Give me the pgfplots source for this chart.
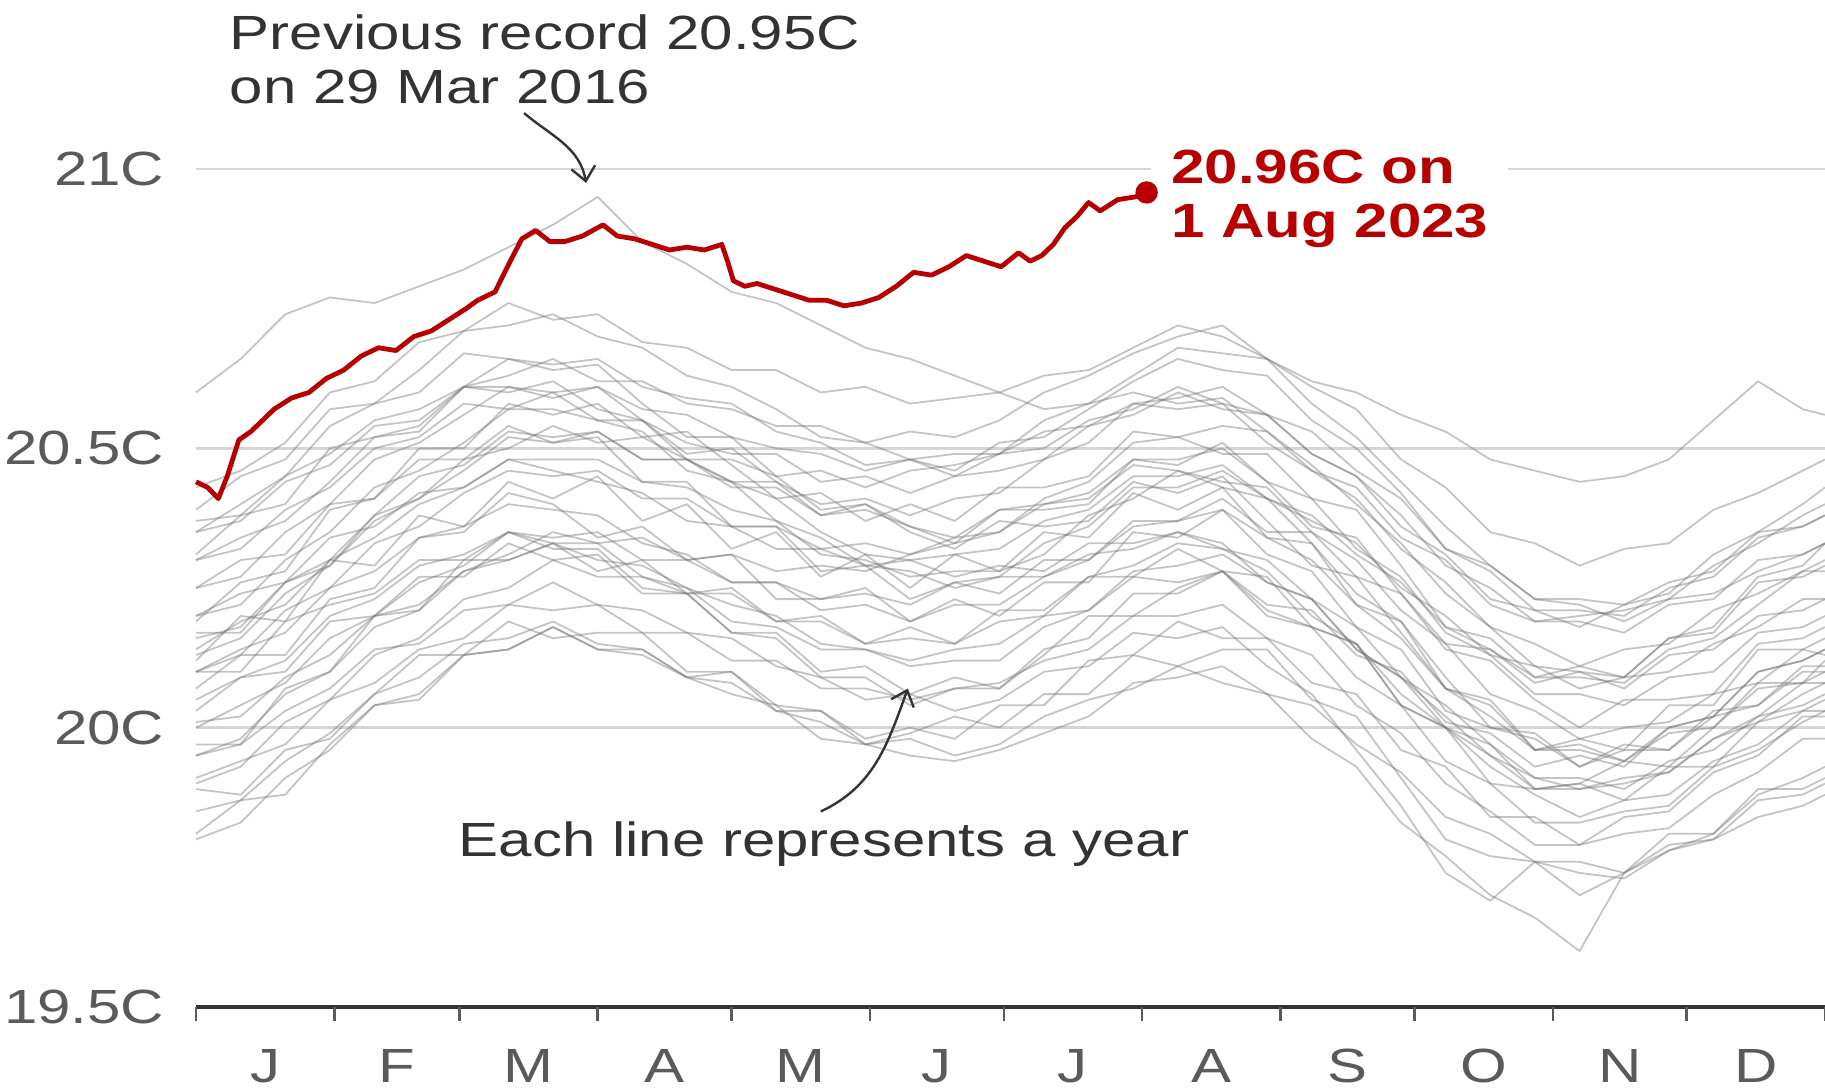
\documentclass[border=0pt]{standalone}
\usepackage{fontspec}
\setmainfont{Liberation Sans}[FakeStretch=1.25]
\usepackage{pgfplots}
\pgfplotsset{compat=1.18}
\usepackage{pgfplotstable}
\usetikzlibrary{arrows.meta}

\definecolor{bbcred}{HTML}{B80000}
\definecolor{txt}{HTML}{333333}
\definecolor{ticktxt}{HTML}{5A5A5A}
\definecolor{gridc}{HTML}{D6D6D6}

% daily global SST (C), one column per earlier year, sampled every 10 days
\pgfplotstableread{
t y1 y2 y3 y4 y5 y6 y7 y8 y9 y10 y11 y12 y13 y14 y15 y16 y17 y18 y19 y20 y21 y22 y23 y24 y25 y26 y27 y28 y29 y30 y31 y32 y33 y34 y35 y36
0   20.60 20.43 20.16 20.30 20.37 20.25 20.35 20.20 20.13 20.30 20.10 20.14 20.35 20.00 20.10 19.95 19.90 20.01 19.91 19.80 19.95 19.85 20.05 20.20 20.07 20.25 19.97 20.19 20.03 20.31 19.89 20.12 19.81 20.17 20.10 20.39
10  20.66 20.46 20.18 20.34 20.38 20.27 20.40 20.22 20.16 20.32 20.13 20.19 20.37 20.04 20.14 19.98 19.93 20.02 19.94 19.83 19.97 19.87 20.09 20.24 20.13 20.30 19.97 20.26 20.09 20.38 19.88 20.20 19.87 20.17 20.10 20.45
20  20.74 20.51 20.26 20.37 20.45 20.35 20.45 20.30 20.24 20.39 20.21 20.22 20.44 20.08 20.17 20.06 20.01 20.09 19.97 19.91 20.03 19.94 20.12 20.26 20.13 20.31 20.07 20.28 20.10 20.40 19.96 20.19 19.88 20.26 20.19 20.48
30  20.77 20.60 20.30 20.44 20.49 20.40 20.54 20.35 20.29 20.43 20.25 20.30 20.47 20.16 20.25 20.10 20.05 20.13 20.05 19.96 20.07 19.99 20.20 20.34 20.23 20.40 20.10 20.39 20.19 20.50 19.98 20.30 19.97 20.29 20.22 20.57
40  20.76 20.62 20.38 20.52 20.55 20.48 20.58 20.43 20.37 20.50 20.33 20.34 20.54 20.20 20.28 20.18 20.13 20.20 20.08 20.04 20.14 20.06 20.23 20.36 20.25 20.41 20.20 20.41 20.20 20.52 20.06 20.29 20.04 20.38 20.24 20.58
50  20.79 20.69 20.41 20.54 20.57 20.51 20.64 20.46 20.41 20.52 20.36 20.40 20.55 20.26 20.34 20.21 20.16 20.22 20.14 20.06 20.15 20.09 20.29 20.42 20.34 20.48 20.21 20.50 20.27 20.53 20.13 20.38 20.05 20.45 20.30 20.60
60  20.82 20.71 20.48 20.61 20.61 20.56 20.71 20.51 20.46 20.58 20.42 20.43 20.61 20.29 20.36 20.28 20.23 20.28 20.16 20.13 20.21 20.15 20.31 20.43 20.35 20.48 20.30 20.50 20.27 20.61 20.13 20.36 20.13 20.47 20.30 20.67
70  20.86 20.76 20.50 20.63 20.66 20.61 20.72 20.57 20.52 20.57 20.46 20.48 20.60 20.35 20.40 20.31 20.25 20.30 20.22 20.14 20.22 20.16 20.35 20.48 20.42 20.54 20.30 20.58 20.33 20.61 20.19 20.44 20.14 20.53 20.35 20.66
80  20.90 20.73 20.54 20.66 20.65 20.60 20.74 20.57 20.51 20.60 20.45 20.46 20.62 20.34 20.39 20.35 20.30 20.33 20.21 20.18 20.26 20.19 20.33 20.48 20.40 20.51 20.33 20.56 20.30 20.59 20.16 20.41 20.18 20.52 20.32 20.64
90  20.95 20.74 20.51 20.62 20.66 20.61 20.70 20.55 20.53 20.55 20.46 20.44 20.57 20.35 20.38 20.33 20.27 20.30 20.22 20.14 20.22 20.15 20.33 20.48 20.34 20.52 20.28 20.58 20.31 20.61 20.17 20.45 20.14 20.53 20.32 20.65
100 20.87 20.69 20.52 20.62 20.61 20.57 20.68 20.55 20.48 20.53 20.41 20.42 20.55 20.30 20.33 20.34 20.27 20.29 20.17 20.13 20.21 20.14 20.27 20.44 20.36 20.44 20.30 20.52 20.24 20.55 20.17 20.37 20.14 20.48 20.25 20.58
110 20.83 20.68 20.48 20.58 20.59 20.56 20.63 20.51 20.48 20.46 20.41 20.37 20.48 20.30 20.31 20.30 20.24 20.25 20.17 20.09 20.17 20.09 20.25 20.43 20.30 20.44 20.24 20.53 20.24 20.49 20.10 20.40 20.09 20.48 20.24 20.52
120 20.78 20.64 20.48 20.57 20.58 20.52 20.61 20.49 20.44 20.44 20.36 20.36 20.44 20.26 20.26 20.31 20.24 20.22 20.12 20.08 20.16 20.06 20.19 20.39 20.31 20.36 20.25 20.47 20.17 20.50 20.10 20.32 20.10 20.43 20.17 20.52
130 20.76 20.64 20.45 20.54 20.53 20.50 20.57 20.49 20.44 20.37 20.36 20.32 20.41 20.26 20.26 20.28 20.19 20.20 20.12 20.03 20.11 20.04 20.18 20.37 20.23 20.36 20.19 20.41 20.17 20.44 20.03 20.35 20.04 20.43 20.16 20.45
140 20.72 20.60 20.46 20.54 20.51 20.49 20.52 20.44 20.40 20.34 20.32 20.32 20.35 20.23 20.21 20.29 20.19 20.15 20.07 20.01 20.09 19.98 20.14 20.31 20.23 20.28 20.20 20.42 20.10 20.38 20.03 20.27 20.03 20.38 20.09 20.39
150 20.68 20.61 20.43 20.51 20.47 20.46 20.51 20.45 20.41 20.29 20.33 20.29 20.31 20.24 20.22 20.28 20.15 20.14 20.07 19.97 20.05 19.97 20.14 20.30 20.25 20.29 20.15 20.37 20.11 20.40 19.97 20.31 19.98 20.39 20.09 20.40
160 20.66 20.58 20.46 20.53 20.48 20.48 20.48 20.42 20.38 20.28 20.31 20.30 20.30 20.22 20.19 20.31 20.16 20.11 20.05 19.98 20.06 19.95 20.12 20.27 20.19 20.23 20.18 20.40 20.06 20.36 19.99 20.25 20.00 20.36 20.04 20.35
170 20.63 20.59 20.47 20.52 20.45 20.46 20.49 20.45 20.41 20.25 20.34 20.31 20.27 20.26 20.22 20.33 20.15 20.12 20.07 19.95 20.03 19.94 20.14 20.28 20.23 20.26 20.15 20.37 20.09 20.33 20.02 20.31 19.98 20.34 20.07 20.32
180 20.60 20.60 20.49 20.55 20.49 20.51 20.49 20.46 20.42 20.27 20.35 20.32 20.29 20.27 20.22 20.35 20.19 20.12 20.08 19.97 20.05 19.96 20.15 20.28 20.20 20.24 20.21 20.43 20.07 20.39 20.00 20.28 20.04 20.39 20.07 20.37
190 20.57 20.63 20.55 20.60 20.50 20.52 20.53 20.48 20.48 20.27 20.40 20.37 20.28 20.33 20.27 20.41 20.20 20.18 20.12 20.02 20.10 19.99 20.20 20.31 20.26 20.30 20.21 20.43 20.13 20.39 20.06 20.35 20.04 20.40 20.14 20.36
200 20.58 20.64 20.58 20.63 20.55 20.57 20.54 20.54 20.51 20.31 20.42 20.39 20.33 20.36 20.30 20.44 20.27 20.21 20.14 20.05 20.11 20.02 20.21 20.38 20.26 20.30 20.27 20.45 20.20 20.40 20.06 20.34 20.12 20.41 20.16 20.37
210 20.60 20.68 20.63 20.67 20.57 20.62 20.58 20.56 20.58 20.32 20.48 20.45 20.33 20.43 20.36 20.51 20.29 20.28 20.20 20.07 20.17 20.08 20.27 20.41 20.35 20.37 20.27 20.53 20.20 20.48 20.13 20.42 20.13 20.47 20.24 20.44
220 20.58 20.72 20.68 20.70 20.61 20.66 20.57 20.60 20.59 20.35 20.48 20.45 20.35 20.43 20.37 20.52 20.33 20.29 20.20 20.11 20.16 20.09 20.26 20.46 20.34 20.37 20.32 20.52 20.25 20.47 20.11 20.39 20.19 20.46 20.24 20.42
230 20.59 20.70 20.67 20.72 20.58 20.64 20.58 20.57 20.61 20.33 20.50 20.47 20.32 20.46 20.39 20.54 20.32 20.31 20.22 20.08 20.18 20.11 20.28 20.44 20.39 20.41 20.28 20.49 20.28 20.51 20.14 20.43 20.16 20.43 20.28 20.45
240 20.53 20.66 20.66 20.66 20.56 20.63 20.51 20.56 20.56 20.26 20.44 20.41 20.28 20.41 20.34 20.53 20.30 20.26 20.16 20.06 20.11 20.06 20.21 20.43 20.31 20.35 20.27 20.49 20.20 20.44 20.14 20.34 20.16 20.41 20.22 20.37
250 20.47 20.58 20.62 20.61 20.49 20.55 20.46 20.49 20.53 20.23 20.41 20.37 20.20 20.38 20.30 20.46 20.23 20.23 20.13 19.98 20.06 20.04 20.18 20.35 20.28 20.35 20.18 20.41 20.18 20.36 20.05 20.33 20.08 20.33 20.21 20.29
260 20.40 20.52 20.60 20.57 20.45 20.50 20.41 20.45 20.46 20.14 20.32 20.33 20.15 20.31 20.22 20.43 20.18 20.14 20.04 19.93 19.96 19.97 20.09 20.30 20.18 20.27 20.15 20.39 20.15 20.34 20.02 20.22 20.06 20.24 20.13 20.27
270 20.33 20.44 20.56 20.48 20.36 20.42 20.32 20.38 20.41 20.09 20.27 20.25 20.06 20.26 20.16 20.34 20.09 20.09 19.99 19.83 19.86 19.92 20.04 20.21 20.14 20.24 20.04 20.29 20.04 20.24 19.91 20.19 19.96 20.19 20.10 20.17
280 20.24 20.36 20.53 20.43 20.31 20.32 20.26 20.29 20.32 20.02 20.17 20.20 20.00 20.18 20.07 20.30 20.04 20.00 19.90 19.77 19.74 19.84 19.94 20.15 20.03 20.15 20.00 20.18 20.00 20.14 19.80 20.07 19.93 20.09 20.01 20.07
290 20.18 20.29 20.48 20.35 20.23 20.28 20.18 20.25 20.29 19.95 20.13 20.13 19.93 20.14 20.02 20.22 19.97 19.95 19.85 19.70 19.69 19.81 19.90 20.06 20.00 20.14 19.90 20.16 19.97 20.12 19.77 20.05 19.84 20.00 19.99 20.04
300 20.11 20.23 20.46 20.33 20.21 20.21 20.15 20.19 20.23 19.91 20.06 20.11 19.88 20.09 19.96 20.19 19.91 19.89 19.79 19.66 19.76 19.76 19.83 20.03 19.99 20.08 19.89 20.09 19.89 20.05 19.76 19.96 19.84 19.98 19.93 19.96
310 20.10 20.22 20.44 20.29 20.18 20.21 20.11 20.20 20.23 19.89 20.06 20.07 19.84 20.09 19.96 20.19 19.91 19.89 19.79 19.60 19.74 19.76 19.83 19.98 19.93 20.10 19.90 20.11 19.90 20.00 19.70 19.98 19.79 19.93 19.95 19.97
320 20.07 20.19 20.45 20.32 20.22 20.20 20.14 20.21 20.22 19.90 20.04 20.09 19.87 20.08 19.94 20.17 19.89 19.91 19.81 19.74 19.73 19.74 19.85 20.00 19.97 20.09 19.87 20.09 19.94 20.05 19.74 19.96 19.84 19.96 19.93 19.94
330 20.13 20.23 20.48 20.33 20.24 20.25 20.15 20.23 20.26 19.92 20.09 20.10 19.88 20.14 19.99 20.22 19.94 19.92 19.82 19.78 19.78 19.79 19.86 20.01 19.96 20.16 19.93 20.16 19.93 20.05 19.81 20.04 19.85 19.96 20.00 20.00
340 20.14 20.24 20.55 20.39 20.31 20.27 20.21 20.29 20.28 19.98 20.10 20.15 19.94 20.16 20.00 20.23 19.96 19.98 19.88 19.80 19.81 19.80 19.93 20.06 20.03 20.18 19.93 20.17 20.00 20.06 19.81 20.04 19.92 20.02 20.02 20.02
350 20.20 20.28 20.62 20.42 20.35 20.34 20.24 20.33 20.35 20.01 20.17 20.18 19.97 20.22 20.07 20.30 20.02 20.02 19.92 19.84 19.88 19.87 19.96 20.08 20.04 20.27 20.01 20.26 20.08 20.15 19.89 20.14 19.95 20.04 20.10 20.10
360 20.21 20.31 20.57 20.46 20.40 20.36 20.28 20.38 20.36 20.06 20.18 20.23 20.03 20.28 20.08 20.31 20.04 20.08 19.98 19.86 19.91 19.88 20.01 20.14 20.11 20.29 20.03 20.27 20.08 20.16 19.89 20.14 20.02 20.10 20.12 20.12
365 20.23 20.33 20.56 20.48 20.43 20.38 20.30 20.40 20.38 20.08 20.20 20.23 20.03 20.28 20.10 20.33 20.06 20.08 19.98 19.88 19.93 19.90 20.03 20.13 20.11 20.33 20.05 20.29 20.12 20.18 19.91 20.16 20.02 20.10 20.14 20.14
}\years

\begin{document}
\begin{tikzpicture}[font=\fontsize{12}{14}\selectfont]
\useasboundingbox (-49pt,-20.25pt) rectangle (407.25pt,251.75pt);
\begin{axis}[
    at={(0,0)}, anchor=south west,
    scale only axis,
    width=407.25pt, height=209.5pt,
    xmin=0, xmax=365,
    ymin=19.5, ymax=21,
    clip=false,
    axis x line*=bottom,
    x axis line style={draw=black!80, line width=1.2pt},
    y axis line style={draw=none},
    xtick={15.5,45,74.5,105,135.5,166,196.5,227.5,258,288.5,319,349.5},
    xticklabels={J,F,M,A,M,J,J,A,S,O,N,D},
    xtick align=outside,
    major tick length=0pt,
    xtick style={draw=ticktxt, line width=0.6pt},
    extra x ticks={0,31,59,90,120,151,181,212,243,273,304,334,365},
    extra x tick labels={},
    extra x tick style={major tick length=3.5pt},
    ytick={19.5,20,20.5,21},
    yticklabels={19.5C,20C,20.5C,21C},
    ytick style={draw=none},
    ymajorgrids,
    major grid style={draw=gridc, line width=0.6pt},
    yticklabel style={anchor=east, inner sep=0pt, xshift=-7.75pt, text=ticktxt, font=\fontsize{12}{14}\selectfont},
    xticklabel style={anchor=center, inner sep=0pt, yshift=-14.75pt, text=ticktxt, font=\fontsize{12}{14}\selectfont},
  ]

  \pgfplotsinvokeforeach{1,...,36}{
    \addplot[draw=black!55, draw opacity=0.42, line width=0.45pt, line join=round] table[x=t, y=y#1] {\years};
  }

  \node[anchor=west, fill=white, inner xsep=5pt, inner ysep=3pt, align=left, text=bbcred,
        font=\bfseries\fontsize{12}{13.5}\selectfont, xshift=1pt, yshift=-1.5pt]
    at (axis cs:213,20.958) {20.96C on\\1 Aug 2023};

  % 2023
  \addplot[draw=bbcred, line width=1.2pt, line join=round] coordinates {
    (0,20.44) (2.6,20.43) (5.0,20.41) (7.0,20.45) (9.6,20.515) (12.3,20.53)
    (14.9,20.55) (17.5,20.57) (21.4,20.59) (25.3,20.60) (29.2,20.625) (33.1,20.64)
    (37.0,20.665) (40.9,20.68) (44.8,20.675) (48.8,20.70) (52.7,20.71) (56.6,20.73)
    (60.5,20.75) (63.1,20.765) (67.0,20.78) (70.1,20.83) (73.0,20.875) (76.1,20.89)
    (79.3,20.87) (82.6,20.87) (86.6,20.88) (91.2,20.90) (94.4,20.88) (98.3,20.875)
    (102.2,20.865) (106.1,20.855) (110.0,20.86) (113.9,20.855) (117.8,20.865) (119.1,20.835)
    (120.4,20.80) (123.0,20.79) (125.7,20.795) (129.6,20.785) (133.5,20.775) (137.4,20.765)
    (141.3,20.765) (145.2,20.755) (149.1,20.76) (153.0,20.77) (156.9,20.79) (160.8,20.815)
    (164.8,20.81) (168.7,20.825) (172.6,20.845) (176.5,20.835) (180.4,20.825) (184.3,20.85)
    (186.9,20.835) (189.5,20.845) (192.1,20.865) (194.7,20.895) (197.4,20.915) (200.0,20.94)
    (202.6,20.925) (206.5,20.945) (210.4,20.95) (213.0,20.958)
  };
  \addplot[only marks, mark=*, mark size=2.6pt, mark options={draw=bbcred, fill=bbcred}] coordinates {(213,20.958)};

  \node[anchor=base west, inner sep=0pt, text=txt] at (axis cs:7.4,21.214) {Previous record 20.95C};
  \node[anchor=base west, inner sep=0pt, text=txt] at (axis cs:7.4,21.118) {on 29 Mar 2016};
  \draw[txt, line width=0.6pt, -{Straight Barb[length=3.5pt,width=6pt]}]
    (axis cs:73.5,21.10) to[out=-40, in=100] (axis cs:87.4,20.975);

  \node[anchor=base west, inner sep=0pt, text=txt] at (axis cs:58.7,19.77) {Each line represents a year};
  \draw[txt, line width=0.6pt, -{Straight Barb[length=3.5pt,width=6pt]}]
    (axis cs:140,19.85) to[out=25, in=-110] (axis cs:159.5,20.07);
\end{axis}
\end{tikzpicture}
\end{document}
